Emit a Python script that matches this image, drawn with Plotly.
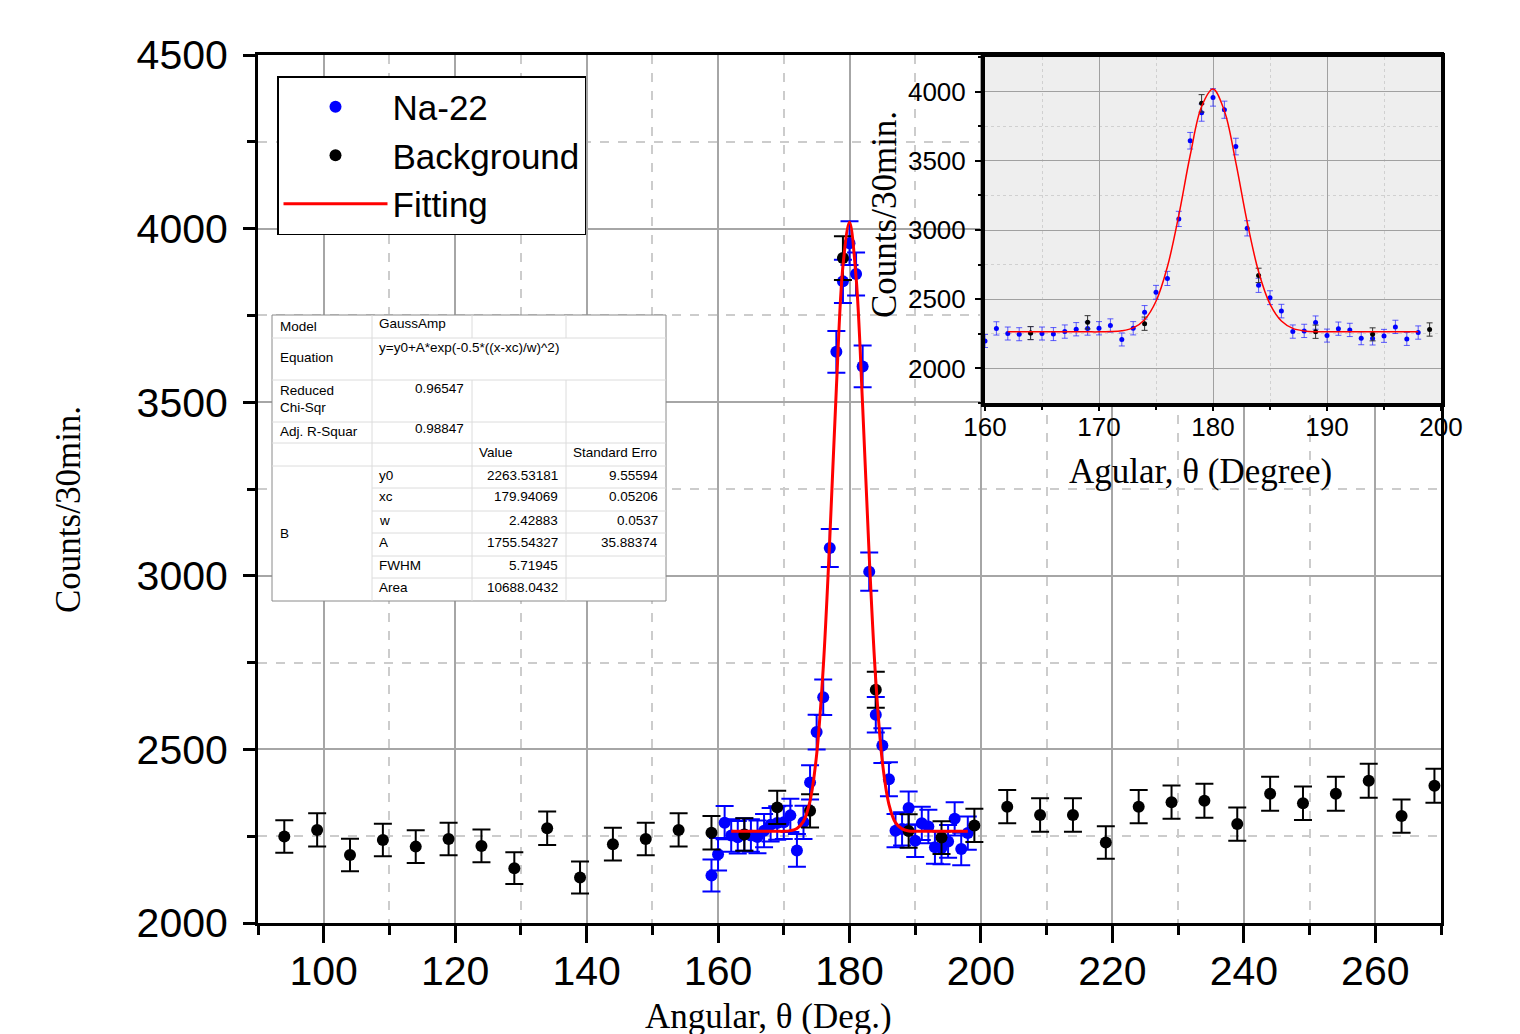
import plotly.graph_objects as go

# ---- data ----
na_angle = [159, 160, 161, 162, 163, 164, 165, 166, 167, 168, 169, 170, 171, 172, 173, 174, 175, 176, 177, 178,
            179, 180, 181, 182, 183, 184, 185, 186, 187, 188, 189, 190, 191, 192, 193, 194, 195, 196, 197, 198]
na_counts = [2137, 2198, 2289, 2252, 2247, 2255, 2252, 2248, 2266, 2283, 2288, 2290, 2310, 2209, 2290, 2405, 2550, 2650, 3080, 3645,
             3848, 3958, 3869, 3603, 3012, 2600, 2511, 2414, 2266, 2271, 2331, 2237, 2287, 2278, 2218, 2216, 2235, 2300, 2213, 2259]
na_err = [46, 47, 48, 47, 47, 47, 47, 47, 48, 48, 48, 48, 48, 47, 48, 49, 50, 51, 55, 60,
          62, 63, 62, 60, 55, 51, 50, 49, 48, 48, 48, 47, 48, 48, 47, 47, 47, 48, 47, 48]

bg_angle = [94, 99, 104, 109, 114, 119, 124, 129, 134, 139, 144, 149, 154, 159, 164, 169, 174, 179,
            184, 189, 194, 199, 204, 209, 214, 219, 224, 229, 234, 239, 244, 249, 254, 259, 264, 269]
bg_counts = [2249, 2268, 2196, 2239, 2220, 2242, 2222, 2158, 2273, 2131, 2227, 2242, 2268, 2260, 2255, 2333, 2323, 3915,
             2672, 2265, 2246, 2281, 2335, 2311, 2311, 2232, 2335, 2348, 2352, 2285, 2372, 2345, 2372, 2410, 2308, 2395]
bg_err = [47, 48, 47, 47, 47, 47, 47, 46, 48, 46, 47, 47, 48, 48, 47, 48, 48, 63,
          52, 48, 47, 48, 48, 48, 48, 47, 48, 48, 49, 48, 49, 48, 49, 49, 48, 49]

fit_angle = [162, 163, 164, 165, 166, 167, 168, 169, 170, 171, 172, 173, 174, 175, 176, 177, 178, 179, 180,
             181, 182, 183, 184, 185, 186, 187, 188, 189, 190, 191, 192, 193, 194, 195, 196, 197, 198]
fit_counts = [2264, 2264, 2264, 2264, 2264, 2264, 2264, 2264, 2264, 2266, 2272, 2293, 2352, 2485, 2734, 3107, 3540, 3892, 4018,
              3860, 3489, 3057, 2698, 2464, 2342, 2289, 2271, 2265, 2264, 2264, 2264, 2264, 2264, 2264, 2264, 2264, 2264]

# fit report table (Origin style)
fit_model = "GaussAmp"
fit_equation = "y=y0+A*exp(-0.5*((x-xc)/w)^2)"
reduced_chisqr = "0.96547"
adj_rsquare = "0.98847"
param_names = ["y0", "xc", "w", "A", "FWHM", "Area"]
param_values = ["2263.53181", "179.94069", "2.42883", "1755.54327", "5.71945", "10688.0432"]
param_errors = ["9.55594", "0.05206", "0.0537", "35.88374", "", ""]

SANS = "Liberation Sans"
SERIF = "Liberation Serif"

MAIN_X = [90, 270]
MAIN_Y = [2000, 4500]
INSET_X = [160, 200]
INSET_Y = [1750, 4250]

# plot area in pixels
L, R, T, B = 258, 1441, 55, 923


def px(x, y):
    return (x - L) / (R - L), (B - y) / (B - T)


fig = go.Figure()

# main panel
fig.add_trace(go.Scatter(x=na_angle, y=na_counts, mode='markers', name='Na-22',
                         marker=dict(color='#0000ff', size=12),
                         error_y=dict(type='data', array=na_err, color='#0000ff', thickness=2, width=9)))
fig.add_trace(go.Scatter(x=bg_angle, y=bg_counts, mode='markers', name='Background',
                         marker=dict(color='black', size=12),
                         error_y=dict(type='data', array=bg_err, color='black', thickness=2, width=9)))
fig.add_trace(go.Scatter(x=fit_angle, y=fit_counts, mode='lines', name='Fitting',
                         line=dict(color='#ff0000', width=3, shape='spline')))

# inset panel
fig.add_trace(go.Scatter(x=na_angle, y=na_counts, mode='markers', showlegend=False, xaxis='x2', yaxis='y2',
                         marker=dict(color='#0000ff', size=5),
                         error_y=dict(type='data', array=na_err, color='rgba(40,40,255,0.75)', thickness=1, width=3)))
fig.add_trace(go.Scatter(x=bg_angle, y=bg_counts, mode='markers', showlegend=False, xaxis='x2', yaxis='y2',
                         marker=dict(color='black', size=5),
                         error_y=dict(type='data', array=bg_err, color='#333333', thickness=1, width=3)))
fig.add_trace(go.Scatter(x=fit_angle, y=fit_counts, mode='lines', showlegend=False, xaxis='x2', yaxis='y2',
                         line=dict(color='#ff0000', width=1.5, shape='spline')))

main_axis = dict(showline=True, linecolor='black', linewidth=3, mirror=True, zeroline=False,
                 showgrid=True, gridcolor='#a6a6a6', gridwidth=1.5,
                 ticks='outside', tickcolor='black', tickwidth=3,
                 tickfont=dict(family=SANS, size=41, color='black'))
fig.update_layout(
    xaxis=dict(main_axis, domain=[0, 1], range=MAIN_X, tick0=0, dtick=20, ticklen=17, ticklabelstandoff=-7,
               minor=dict(dtick=10, showgrid=True, gridcolor='#cccccc', griddash='dash', gridwidth=1.5,
                          ticks='outside', ticklen=9, tickwidth=3, tickcolor='black')),
    yaxis=dict(main_axis, domain=[0, 1], range=MAIN_Y, tick0=0, dtick=500, ticklen=12, ticklabelstandoff=7,
               minor=dict(dtick=250, showgrid=True, gridcolor='#cccccc', griddash='dash', gridwidth=1.5,
                          ticks='outside', ticklen=8, tickwidth=3, tickcolor='black')),
    xaxis2=dict(domain=[px(985, 0)[0], 1], anchor='y2', range=INSET_X, tick0=0, dtick=10,
                showline=True, linecolor='black', linewidth=4, mirror=True, zeroline=False,
                showgrid=True, gridcolor='#a0a0a0', gridwidth=1,
                ticks='outside', ticklen=4, tickwidth=2, tickcolor='black', ticklabelstandoff=-6,
                tickfont=dict(family=SANS, size=26, color='black'),
                minor=dict(dtick=5, showgrid=True, gridcolor='#d0d0d0', griddash='dot', gridwidth=1,
                           ticks='outside', ticklen=3, tickwidth=2, tickcolor='black')),
    yaxis2=dict(domain=[px(0, 403)[1], px(0, 57)[1]], anchor='x2', range=INSET_Y, tick0=0, dtick=500,
                showline=True, linecolor='black', linewidth=4, mirror=True, zeroline=False,
                showgrid=True, gridcolor='#a0a0a0', gridwidth=1,
                ticks='outside', ticklen=6, tickwidth=2, tickcolor='black', ticklabelstandoff=4,
                tickfont=dict(family=SANS, size=26, color='black'),
                minor=dict(dtick=250, showgrid=True, gridcolor='#d0d0d0', griddash='dot', gridwidth=1,
                           ticks='outside', ticklen=3, tickwidth=2, tickcolor='black')),
    plot_bgcolor='white', paper_bgcolor='white',
    width=1520, height=1034,
    margin=dict(l=L, r=1520 - R, t=T, b=1034 - B),
    legend=dict(x=px(277, 0)[0], y=px(0, 76)[1], xanchor='left', yanchor='top',
                bgcolor='white', bordercolor='black', borderwidth=1.5,
                font=dict(family=SANS, size=35, color='black'), itemwidth=104),
    showlegend=True,
)

shapes = []
# inset grey background (drawn in the inset's own layer, under its grid)
shapes.append(dict(type='rect', xref='x2', yref='y2', x0=INSET_X[0], x1=INSET_X[1], y0=INSET_Y[0], y1=INSET_Y[1],
                   fillcolor='#eeeeee', line=dict(width=0), layer='below'))

# fit report table
cols = [272, 372, 472, 566, 666]
rows = [315, 338, 380, 422, 443, 466, 488, 511, 533, 556, 578, 601]
x0, y0 = px(cols[0], rows[0])
x1, y1 = px(cols[-1], rows[-1])
shapes.append(dict(type='rect', xref='paper', yref='paper', x0=x0, x1=x1, y0=y1, y1=y0,
                   fillcolor='white', line=dict(color='#8a8a8a', width=1), layer='above'))
inner = dict(color='#dcdcdc', width=1)


def hline(y, xa, xb):
    a = px(xa, y)
    b = px(xb, y)
    shapes.append(dict(type='line', xref='paper', yref='paper', x0=a[0], x1=b[0], y0=a[1], y1=b[1],
                       line=inner, layer='above'))


def vline(x, ya, yb):
    a = px(x, ya)
    b = px(x, yb)
    shapes.append(dict(type='line', xref='paper', yref='paper', x0=a[0], x1=b[0], y0=a[1], y1=b[1],
                       line=inner, layer='above'))


for r in rows[1:6]:
    hline(r, cols[0], cols[-1])
for r in rows[6:-1]:
    hline(r, cols[1], cols[-1])
vline(cols[1], rows[0], rows[-1])
for c in cols[2:4]:
    vline(c, rows[0], rows[1])
    vline(c, rows[2], rows[-1])

annotations = []


def txt(s, x, y, anchor='left', size=13.5):
    ax, ay = px(x, y)
    annotations.append(dict(text=s, x=ax, y=ay, xref='paper', yref='paper', showarrow=False,
                            xanchor=anchor, yanchor='middle', font=dict(family=SANS, size=size, color='black')))


txt("Model", 278, 326)
txt(fit_model, 377, 324)
txt("Equation", 278, 358)
txt(fit_equation, 377, 347)
txt("Reduced", 278, 390)
txt("Chi-Sqr", 278, 407)
txt(reduced_chisqr, 466, 388, 'right')
txt("Adj. R-Squar", 278, 431)
txt(adj_rsquare, 466, 429, 'right')
txt("Value", 477, 452)
txt("Standard Erro", 571, 452)
txt("B", 278, 533)
for i, name in enumerate(param_names):
    yc = rows[5 + i] + 9
    txt(name, 377, yc)
    txt(param_values[i], 560, yc, 'right')
    if param_errors[i]:
        txt(param_errors[i], 660, yc, 'right')

# axis titles
for s, x, y, ang in [("Angular, θ (Deg.)", 768, 1016, 0), ("Counts/30min.", 68, 510, -90),
                     ("Agular, θ (Degree)", 1200, 471, 0), ("Counts/30min.", 885, 215, -90)]:
    ax, ay = px(x, y)
    annotations.append(dict(text=s, x=ax, y=ay, xref='paper', yref='paper', showarrow=False, textangle=ang,
                            xanchor='center', yanchor='middle', font=dict(family=SERIF, size=35, color='black')))

fig.update_layout(shapes=shapes, annotations=annotations)

fig.write_html("out.html", config={'displayModeBar': False},
               post_script="document.body.style.margin='0';")
